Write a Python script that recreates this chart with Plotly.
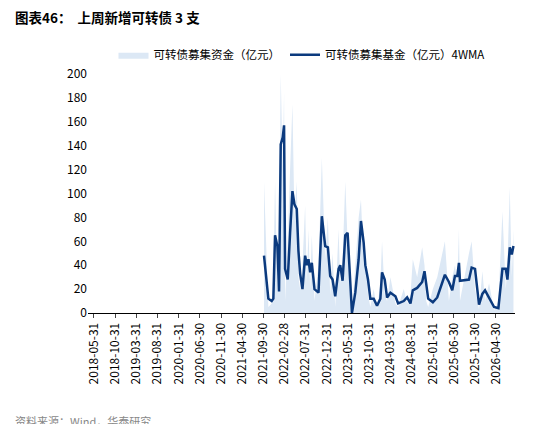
import pandas as pd
import plotly.graph_objects as go

# line vertices: offset (x2.405 days from 2021-09-30), value
offsets = [47, 60, 70, 75, 80, 87, 92, 97, 103, 107, 110, 118, 125, 132, 138, 145, 150, 155, 162, 170,
           175, 180, 185, 190, 198, 210, 220, 230, 238, 245, 252, 260, 270, 275, 282, 290, 297, 305, 310, 320,
           330, 337, 345, 350, 358, 365, 375, 385, 395, 400, 408, 415, 425, 440, 448, 465, 475, 485, 492, 505,
           520, 527, 532, 538, 552, 565, 588, 600, 610, 618, 625, 630, 633, 660, 668, 678, 690, 700, 708, 720,
           735, 748, 760, 770, 775, 782, 788, 793]
wma = [48, 12, 10, 12, 65, 56, 18, 141, 147, 157, 37, 28, 67, 102, 91, 87, 52, 33, 20, 48,
       40, 45, 34, 42, 20, 17, 81, 56, 55, 31, 28, 14, 37, 40, 27, 65, 67, 28, 0, 17,
       45, 77, 59, 40, 28, 12, 12, 6, 12, 34, 28, 13, 17, 14, 8, 10, 13, 8, 19, 21,
       26, 35, 26, 12, 9, 13, 32, 26, 19, 31, 31, 42, 27, 28, 38, 37, 7, 16, 19, 13,
       5, 4, 37, 37, 28, 55, 49, 56]
raw = [110, 5, 8, 30, 110, 20, 60, 200, 120, 185, 10, 60, 120, 175, 80, 110, 30, 20, 40, 90,
       25, 70, 20, 65, 10, 40, 130, 45, 80, 15, 50, 5, 70, 25, 45, 110, 60, 10, 0, 40,
       80, 95, 40, 50, 15, 5, 20, 3, 25, 60, 15, 10, 30, 8, 5, 20, 8, 15, 45, 30,
       55, 40, 10, 5, 20, 30, 60, 10, 30, 40, 25, 70, 10, 50, 60, 20, 3, 35, 10, 25,
       2, 10, 85, 20, 40, 105, 30, 70]

dates = [pd.Timestamp("2021-09-30") + pd.Timedelta(days=(o - 45) * 2.405) for o in offsets]
tick_dates = pd.date_range("2018-05-31", "2026-04-30", freq="5ME")
tick_labels = [d.strftime("%Y-%m-%d") for d in tick_dates]

fig = go.Figure()
fig.add_trace(go.Scatter(x=dates, y=raw, mode="lines", fill="tozeroy",
                         line=dict(width=0, color="#dce8f5"), fillcolor="#dce8f5",
                         name="可转债募集资金（亿元）"))
fig.add_trace(go.Scatter(x=dates, y=wma, mode="lines", line=dict(width=2.5, color="#0b3a7e"),
                         name="可转债募集基金（亿元）4WMA"))

font = "Noto Sans CJK SC"
fig.update_layout(
    width=534, height=424, plot_bgcolor="white", paper_bgcolor="white",
    margin=dict(l=80, r=27, t=66, b=119),
    font=dict(family=font, size=12, color="black"),
    showlegend=True,
    legend=dict(orientation="h", x=0.5, xanchor="center", y=1.02, yanchor="bottom",
                font=dict(size=11.5), tracegroupgap=0),
    xaxis=dict(range=["2018-04-18", "2026-09-14"], tickvals=tick_dates, ticktext=tick_labels,
               tickangle=-90, ticks="outside", ticklen=4, showline=True, linecolor="black",
               showgrid=False, tickfont=dict(size=12), automargin=False),
    yaxis=dict(range=[0, 200], dtick=20, showgrid=False, showline=False, ticks="",
               tickfont=dict(size=12), automargin=False),
)
fig.add_annotation(text="<b>图表46：  上周新增可转债 3 支</b>", xref="paper", yref="paper",
                   x=-0.175, y=1.19, xanchor="left", yanchor="bottom", showarrow=False,
                   font=dict(size=13.5, family=font))
fig.add_annotation(text="资料来源：Wind，华泰研究", xref="paper", yref="paper",
                   x=-0.175, y=-0.41, xanchor="left", yanchor="top", showarrow=False,
                   font=dict(size=11, color="#888888", family=font))
fig.write_html("out.html")
